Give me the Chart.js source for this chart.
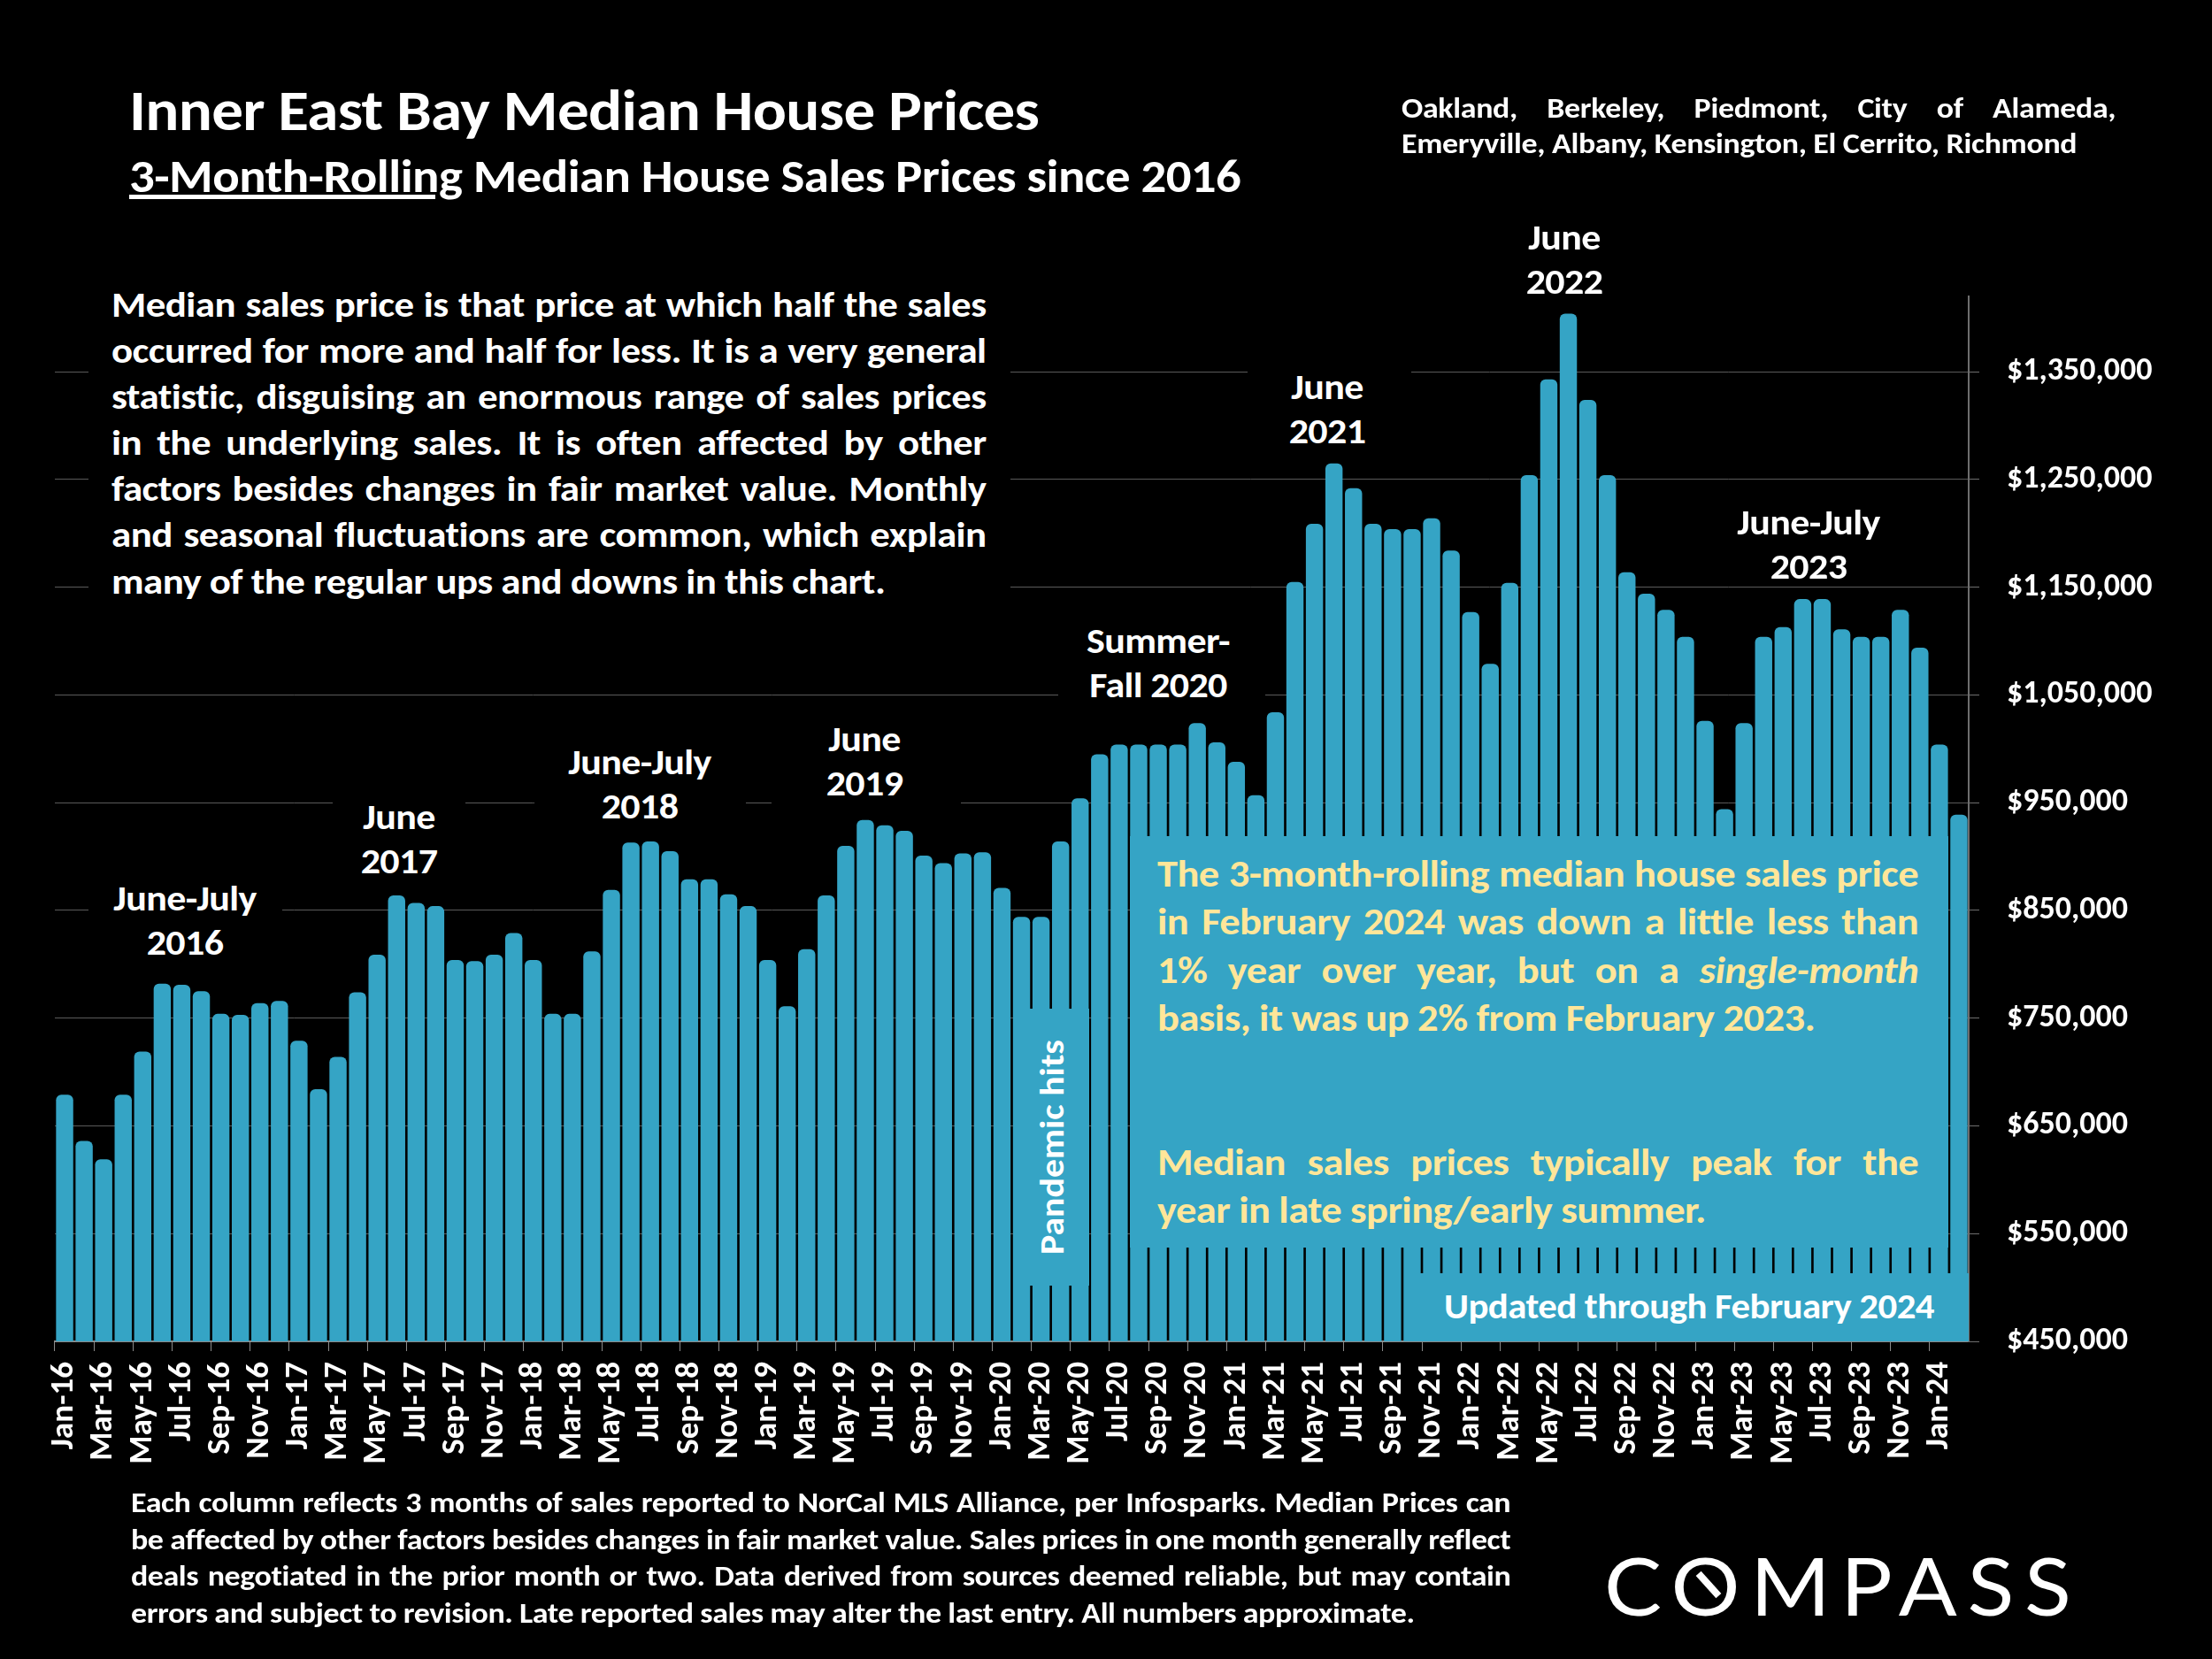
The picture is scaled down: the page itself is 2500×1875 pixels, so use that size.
<!DOCTYPE html>
<html>
<head>
<meta charset="utf-8">
<title>Inner East Bay Median House Prices</title>
<script src="https://cdn.jsdelivr.net/npm/chart.js@4"></script>
<style>
  html, body { margin: 0; padding: 0; background: #000; }
  #page { position: relative; width: 2500px; height: 1875px; background: #000; overflow: hidden;
    font-family: Carlito, Lato, sans-serif; font-weight: 700; color: #fff; }
  #chart { position: absolute; left: 0; top: 0; }
  .txt { position: absolute; white-space: nowrap; transform-origin: left top; }
  .j { text-align: justify; text-align-last: justify; white-space: normal; }
  .mask { position: absolute; background: #000; }
  .teal { position: absolute; background: #35a4c5; }
  .note { position: absolute; text-align: center; font-size: 40px; line-height: 49.5px; white-space: nowrap; transform: translateX(-50%) scaleX(1.1); letter-spacing: -0.6px; }
  .gold { color: #ffe699; }
</style>
</head>
<body>
<div id="page">
  <canvas id="chart" width="2500" height="1875"></canvas>

  <div class="txt" style="left:146px; top:85px; font-size:64px; line-height:80px; letter-spacing:-0.6px; transform:scaleX(1.11);">Inner East Bay Median House Prices</div>
  <div class="txt" style="left:146px; top:164px; font-size:52px; line-height:70px; letter-spacing:-0.5px; transform:scaleX(1.092);"><u>3-Month-Rolling</u> Median House Sales Prices since 2016</div>

  <div class="txt" style="left:1584px; top:102px; width:742px; font-size:33px; line-height:40px; letter-spacing:-0.3px; transform:scaleX(1.088);">
    <div class="j">Oakland, Berkeley, Piedmont, City of Alameda,</div>
    <div>Emeryville, Albany, Kensington, El Cerrito, Richmond</div>
  </div>

  <div class="mask" style="left:100px; top:310px; width:1042px; height:375px;"></div>
  <div class="txt" style="left:126px; top:318px; width:902px; font-size:41px; line-height:52.1px; letter-spacing:-0.5px; transform:scaleX(1.096);">
    <div class="j">Median sales price is that price at which half the sales</div>
    <div class="j">occurred for more and half for less. It is a very general</div>
    <div class="j">statistic, disguising an enormous range of sales prices</div>
    <div class="j">in the underlying sales. It is often affected by other</div>
    <div class="j">factors besides changes in fair market value. Monthly</div>
    <div class="j">and seasonal fluctuations are common, which explain</div>
    <div>many of the regular ups and downs in this chart.</div>
  </div>

  <div class="mask" style="left:100px; top:985px; width:219px; height:110px;"></div>
  <div class="note" style="left:209px; top:991px;">June-July<br>2016</div>
  <div class="mask" style="left:376px; top:893px; width:150px; height:110px;"></div>
  <div class="note" style="left:451px; top:899px;">June<br>2017</div>
  <div class="mask" style="left:604px; top:832px; width:239px; height:108px;"></div>
  <div class="note" style="left:723px; top:837px;">June-July<br>2018</div>
  <div class="mask" style="left:872px; top:806px; width:214px; height:110px;"></div>
  <div class="note" style="left:977px; top:811px;">June<br>2019</div>
  <div class="mask" style="left:1196px; top:697px; width:234px; height:108px;"></div>
  <div class="note" style="left:1309px; top:700px;">Summer-<br>Fall 2020</div>
  <div class="mask" style="left:1410px; top:407px; width:185px; height:108px;"></div>
  <div class="note" style="left:1500px; top:413px;">June<br>2021</div>
  <div class="note" style="left:1768px; top:244px;">June<br>2022</div>
  <div class="note" style="left:2044px; top:566px;">June-July<br>2023</div>

  <div class="teal" style="left:1147px; top:1140px; width:84px; height:313px;"></div>
  <div class="txt" style="left:1147px; top:1140px; width:84px; height:313px; display:flex; align-items:center; justify-content:center;">
    <span style="writing-mode:vertical-rl; transform:rotate(180deg) scaleY(1.1); font-size:38px; line-height:84px;">Pandemic hits</span>
  </div>

  <div class="teal" style="left:1277px; top:945px; width:925px; height:465px;"></div>
  <div class="txt gold" style="left:1308px; top:961px; width:777px; font-size:42px; line-height:54.4px; letter-spacing:-0.5px; transform:scaleX(1.107);">
    <div class="j">The 3-month-rolling median house sales price</div>
    <div class="j">in February 2024 was down a little less than</div>
    <div class="j">1% year over year, but on a <i>single-month</i></div>
    <div>basis, it was up 2% from February 2023.</div>
    <div style="height:108px;"></div>
    <div class="j">Median sales prices typically peak for the</div>
    <div>year in late spring/early summer.</div>
  </div>

  <div class="teal" style="left:1587px; top:1439px; width:638px; height:77px;"></div>
  <div class="txt" style="left:1632px; top:1452px; font-size:40px; line-height:50px; letter-spacing:-0.5px; transform:scaleX(1.07);">Updated through February 2024</div>

  <div class="txt" style="left:148px; top:1678px; width:1386px; font-size:32px; line-height:41.6px; letter-spacing:-0.4px; transform:scaleX(1.125);">
    <div class="j">Each column reflects 3 months of sales reported to NorCal MLS Alliance, per Infosparks. Median Prices can</div>
    <div class="j" style="word-spacing:-2px;">be affected by other factors besides changes in fair market value. Sales prices in one month generally reflect</div>
    <div class="j">deals negotiated in the prior month or two. Data derived from sources deemed reliable, but may contain</div>
    <div>errors and subject to revision. Late reported sales may alter the last entry. All numbers approximate.</div>
  </div>

  <div class="txt" style="left:1813px; top:1736px; font-family:Lato, sans-serif; font-weight:400; font-size:92px; line-height:110px; letter-spacing:11px; transform:scaleX(1.06);">COMPASS</div>
  <div style="position:absolute; left:1914px; top:1787px; width:34px; height:8px; background:#fff; transform:rotate(48deg);"></div>
</div>

<script>
const months = [
  "Jan-16","Feb-16","Mar-16","Apr-16","May-16","Jun-16","Jul-16","Aug-16","Sep-16","Oct-16","Nov-16","Dec-16",
  "Jan-17","Feb-17","Mar-17","Apr-17","May-17","Jun-17","Jul-17","Aug-17","Sep-17","Oct-17","Nov-17","Dec-17",
  "Jan-18","Feb-18","Mar-18","Apr-18","May-18","Jun-18","Jul-18","Aug-18","Sep-18","Oct-18","Nov-18","Dec-18",
  "Jan-19","Feb-19","Mar-19","Apr-19","May-19","Jun-19","Jul-19","Aug-19","Sep-19","Oct-19","Nov-19","Dec-19",
  "Jan-20","Feb-20","Mar-20","Apr-20","May-20","Jun-20","Jul-20","Aug-20","Sep-20","Oct-20","Nov-20","Dec-20",
  "Jan-21","Feb-21","Mar-21","Apr-21","May-21","Jun-21","Jul-21","Aug-21","Sep-21","Oct-21","Nov-21","Dec-21",
  "Jan-22","Feb-22","Mar-22","Apr-22","May-22","Jun-22","Jul-22","Aug-22","Sep-22","Oct-22","Nov-22","Dec-22",
  "Jan-23","Feb-23","Mar-23","Apr-23","May-23","Jun-23","Jul-23","Aug-23","Sep-23","Oct-23","Nov-23","Dec-23",
  "Jan-24","Feb-24"
];

// 3-month-rolling median
const medianPrices = [
  679000, 636000, 619000, 679000, 719000, 782000, 781000, 775000, 754000, 753000, 764000, 766000,
  729000, 684000, 714000, 774000, 809000, 864000, 857000, 854000, 804000, 803000, 809000, 829000,
  804000, 754000, 754000, 812000, 869000, 913000, 914000, 905000, 879000, 879000, 865000, 854000,
  804000, 761000, 814000, 864000, 910000, 934000, 929000, 924000, 901000, 894000, 903000, 904000,
  871000, 844000, 844000, 914000, 954000, 995000, 1004000, 1004000, 1004000, 1004000, 1024000, 1006000,
  988000, 957000, 1034000, 1155000, 1209000, 1265000, 1242000, 1209000, 1204000, 1204000, 1214000, 1184000,
  1127000, 1079000, 1154000, 1254000, 1343000, 1404000, 1324000, 1254000, 1164000, 1144000, 1129000, 1104000,
  1026000, 944000, 1024000, 1104000, 1113000, 1139000, 1139000, 1111000, 1104000, 1104000, 1129000, 1094000,
  1004000, 939000
];

const priceTicks = [450000, 550000, 650000, 750000, 850000, 950000, 1050000, 1150000, 1250000, 1350000];
const yMin = 450000;
const yMax = 1420000;

const barColor = "#35a4c5";
const axisFont = { family: "Carlito, Lato, sans-serif", weight: "700" };

new Chart(document.getElementById("chart"), {
  type: "bar",
  data: {
    labels: months,
    datasets: [{
      data: medianPrices,
      backgroundColor: barColor,
      borderRadius: { topLeft: 6, topRight: 6, bottomLeft: 0, bottomRight: 0 },
      borderSkipped: false,
      categoryPercentage: 1,
      barPercentage: 0.88
    }]
  },
  options: {
    responsive: false,
    animation: false,
    devicePixelRatio: 1,
    layout: { padding: { left: 62, top: 335, right: 0, bottom: 0 } },
    plugins: { legend: { display: false }, tooltip: { enabled: false } },
    scales: {
      x: {
        offset: true,
        grid: {
          offset: true,
          drawOnChartArea: false,
          drawTicks: true,
          tickLength: 11,
          tickColor: ctx => ctx.index % 2 === 0 ? "#8a8a8a" : "transparent"
        },
        border: { color: "#8a8a8a", width: 2 },
        ticks: {
          autoSkip: false,
          minRotation: 90,
          maxRotation: 90,
          padding: 12,
          color: "#fff",
          font: { ...axisFont, size: 37 },
          callback: function (value, index) {
            return index % 2 === 0 ? this.getLabelForValue(value) : "";
          }
        },
        afterFit: scale => { scale.height = 359; }
      },
      y: {
        position: "right",
        min: yMin,
        max: yMax,
        grid: { color: "#5a5a5a", lineWidth: 1, tickLength: 12, tickColor: "#6e6e6e" },
        border: { color: "#6e6e6e", width: 2 },
        afterBuildTicks: scale => { scale.ticks = priceTicks.map(v => ({ value: v })); },
        ticks: {
          padding: 31,
          color: "#fff",
          font: { ...axisFont, size: 36 },
          callback: v => "$" + v.toLocaleString("en-US")
        },
        afterFit: scale => { scale.width = 275; }
      }
    }
  }
});
</script>
</body>
</html>
